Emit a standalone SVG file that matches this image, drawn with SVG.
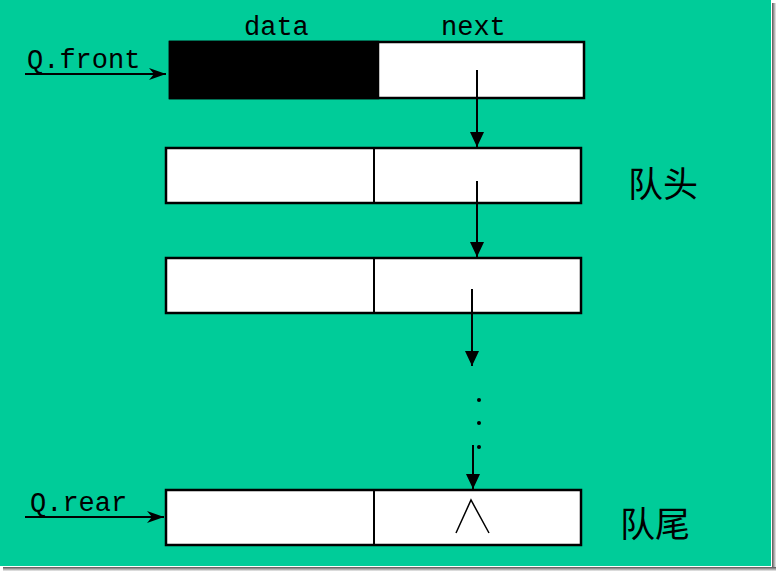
<svg xmlns="http://www.w3.org/2000/svg" width="776" height="571" viewBox="0 0 776 571">
<style>
.cell{fill:#fff;stroke:#000;stroke-width:2.5}
.lbl{font-family:"Liberation Mono","Noto Sans CJK SC",monospace;font-size:27px;fill:#000}
.cjk{font-family:"Noto Sans CJK SC",sans-serif;font-size:35px;fill:#000}
.con{stroke:#000;stroke-width:2;fill:none}
</style>
<defs>
<marker id="ah" markerWidth="16" markerHeight="16" refX="15" refY="8" orient="auto" markerUnits="userSpaceOnUse">
<path d="M0,1 L15,8 L0,15 Z" fill="#000"/>
</marker>
<marker id="ahh" markerWidth="18" markerHeight="12" refX="17" refY="6" orient="auto" markerUnits="userSpaceOnUse">
<path d="M0,0 L17,6 L0,12 L5,6 Z" fill="#000"/>
</marker>
<linearGradient id="shr" x1="0" x2="1" y1="0" y2="0"><stop offset="0" stop-color="#555"/><stop offset="1" stop-color="#eee"/></linearGradient>
<linearGradient id="shb" x1="0" x2="0" y1="0" y2="1"><stop offset="0" stop-color="#555"/><stop offset="1" stop-color="#eee"/></linearGradient>
</defs>
<rect x="0" y="0" width="776" height="571" fill="#fff"/>
<rect x="0" y="0" width="771" height="566" fill="#00CC99"/>
<rect x="772" y="3" width="4" height="568" fill="url(#shr)"/>
<rect x="3" y="567" width="773" height="4" fill="url(#shb)"/>

<text class="lbl" x="244" y="35">data</text>
<text class="lbl" x="441" y="35">next</text>

<g id="node1">
<rect class="cell" x="170" y="42" width="414" height="56"/>
<rect x="170" y="42" width="208" height="56" fill="#000" stroke="#000" stroke-width="2.5"/>
</g>
<g id="node2">
<rect class="cell" x="166" y="148" width="415" height="55"/>
<line x1="374" y1="148" x2="374" y2="203" stroke="#000" stroke-width="2"/>
</g>
<g id="node3">
<rect class="cell" x="166" y="258" width="415" height="55"/>
<line x1="374" y1="258" x2="374" y2="313" stroke="#000" stroke-width="2"/>
</g>
<g id="node4">
<rect class="cell" x="166" y="490" width="415" height="55"/>
<line x1="374" y1="490" x2="374" y2="545" stroke="#000" stroke-width="2"/>
<polyline points="456,533 471,500 489,533" fill="none" stroke="#000" stroke-width="1.5"/>
</g>

<g id="front">
<text class="lbl" x="27" y="68">Q.front</text>
</g>
<g id="rear">
<text class="lbl" x="30" y="511">Q.rear</text>
</g>
<g id="head"><text class="cjk" x="628" y="197">队头</text></g>
<g id="tail"><text class="cjk" x="620" y="537">队尾</text></g>

<g id="dots" fill="#000">
<circle cx="479" cy="400" r="2"/>
<circle cx="479" cy="423" r="2"/>
<circle cx="479" cy="447" r="2"/>
</g>

<g id="connectors">
<line class="con" x1="25" y1="74" x2="166" y2="74" marker-end="url(#ahh)"/>
<line class="con" x1="25" y1="517" x2="164" y2="517" marker-end="url(#ahh)"/>
<line class="con" x1="477" y1="70" x2="477" y2="147" marker-end="url(#ah)"/>
<line class="con" x1="477" y1="181" x2="477" y2="257" marker-end="url(#ah)"/>
<line class="con" x1="472" y1="289" x2="472" y2="366" marker-end="url(#ah)"/>
<line class="con" x1="473" y1="445" x2="473" y2="489" marker-end="url(#ah)"/>
</g>
</svg>
